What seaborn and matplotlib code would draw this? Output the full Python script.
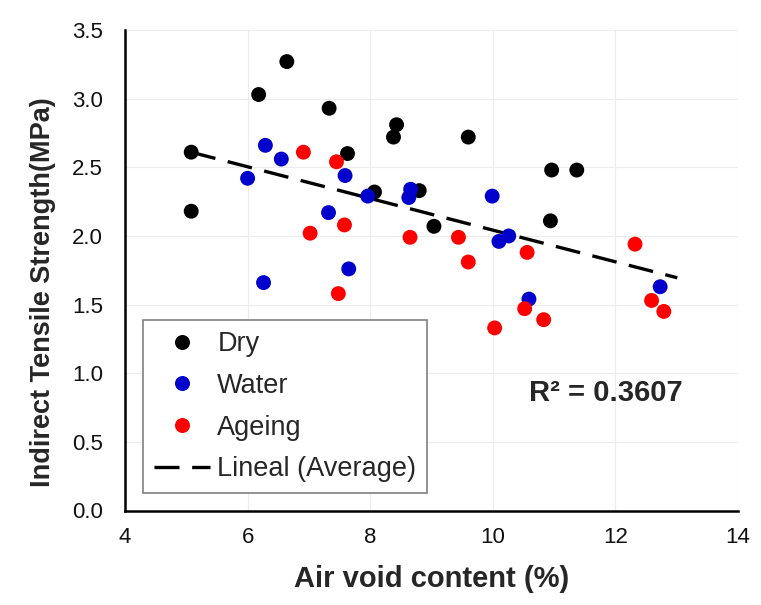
import numpy as np
import pandas as pd
import matplotlib
matplotlib.use("Agg")
import matplotlib.pyplot as plt
from matplotlib.lines import Line2D
import seaborn as sns

# Indirect tensile strength vs air void content for three conditioning states
dry_x = [5.08, 5.08, 6.18, 6.64, 7.33, 7.63, 8.07, 8.38, 8.43, 8.80, 9.04, 9.60, 10.94, 10.96, 11.37]
dry_y = [2.61, 2.18, 3.03, 3.27, 2.93, 2.60, 2.32, 2.72, 2.81, 2.33, 2.07, 2.72, 2.11, 2.48, 2.48]

water_x = [6.00, 6.29, 6.55, 6.26, 7.32, 7.59, 7.65, 7.96, 8.63, 8.66, 9.99, 10.10, 10.26, 10.59, 12.73]
water_y = [2.42, 2.66, 2.56, 1.66, 2.17, 2.44, 1.76, 2.29, 2.28, 2.34, 2.29, 1.96, 2.00, 1.54, 1.63]

ageing_x = [6.91, 7.02, 7.45, 7.48, 7.58, 8.65, 9.44, 9.60, 10.03, 10.52, 10.56, 10.83, 12.32, 12.59, 12.79]
ageing_y = [2.61, 2.02, 2.54, 1.58, 2.08, 1.99, 1.99, 1.81, 1.33, 1.47, 1.88, 1.39, 1.94, 1.53, 1.45]

# Linear trend of the averaged data
trend_x = [5.08, 13.01]
trend_y = [2.61, 1.695]
r_squared = "0.3607"

conditions = ["Dry", "Water", "Ageing"]
colors = {"Dry": "#000000", "Water": "#0000cc", "Ageing": "#ff0000"}

df = pd.concat([
    pd.DataFrame({"void": dry_x, "its": dry_y, "cond": "Dry"}),
    pd.DataFrame({"void": water_x, "its": water_y, "cond": "Water"}),
    pd.DataFrame({"void": ageing_x, "its": ageing_y, "cond": "Ageing"}),
], ignore_index=True)
trend = pd.DataFrame({"void": trend_x, "its": trend_y})

sns.set_style("white")
plt.rcParams["font.family"] = ["Liberation Sans", "DejaVu Sans"]

fig = plt.figure(figsize=(7.61, 6.05), dpi=100)
ax = fig.add_axes([125 / 761, 1 - 510.5 / 605, 613 / 761, 480.5 / 605])

ax.grid(True, color="#ececec", linewidth=0.8, zorder=0)
ax.set_axisbelow(True)

dash = [7.5, 3.8]
sns.lineplot(data=trend, x="void", y="its", ax=ax, color="black", linewidth=2.4,
             dashes=False, zorder=2, legend=False)
ax.lines[-1].set_dashes(dash)

sns.scatterplot(data=df, x="void", y="its", hue="cond", hue_order=conditions,
                palette=colors, s=115, linewidth=0, ax=ax, zorder=3, legend=False)

ax.set_xlim(4, 14)
ax.set_ylim(0, 3.5)
ax.set_xticks(np.arange(4, 15, 2))
ax.set_yticks(np.arange(0, 3.51, 0.5))
ax.set_yticklabels([f"{v:.1f}" for v in np.arange(0, 3.51, 0.5)])

for s in ["top", "right"]:
    ax.spines[s].set_visible(False)
for s in ["left", "bottom"]:
    ax.spines[s].set_color("black")
    ax.spines[s].set_linewidth(1.8)
ax.tick_params(axis="both", direction="out", length=6, width=1.5, color="black",
               labelsize=16, labelcolor="#111111")
ax.tick_params(axis="y", pad=10)
ax.tick_params(axis="x", pad=6)

ax.set_xlabel("Air void content (%)", fontsize=21, fontweight="bold")
ax.set_ylabel("Indirect Tensile Strength(MPa)", fontsize=19.5, fontweight="bold")
ax.xaxis.set_label_coords(0.5, -0.143)
ax.xaxis.label.set_va("center")
ax.yaxis.set_label_coords(-0.133, 0.455)
ax.yaxis.label.set_va("center")

ax.text(11.85, 0.855, f"R² = {r_squared}", fontsize=21, fontweight="bold",
        ha="center", va="center")

handles = [Line2D([], [], linestyle="none", marker="o", markersize=10.8,
                  markerfacecolor=colors[c], markeredgewidth=0, label=c) for c in conditions]
handles.append(Line2D([], [], color="black", linewidth=2.4, dashes=dash,
                      label="Lineal (Average)"))
leg = ax.legend(handles=handles, loc="lower left", bbox_to_anchor=(0.029, 0.036),
                fontsize=19.5, frameon=True, fancybox=False, edgecolor="#808080",
                framealpha=1, borderpad=0.4, labelspacing=0.58, handlelength=2.1,
                handletextpad=0.25, borderaxespad=0)
leg.get_frame().set_linewidth(1.2)

fig.savefig("out.png", dpi=100)
